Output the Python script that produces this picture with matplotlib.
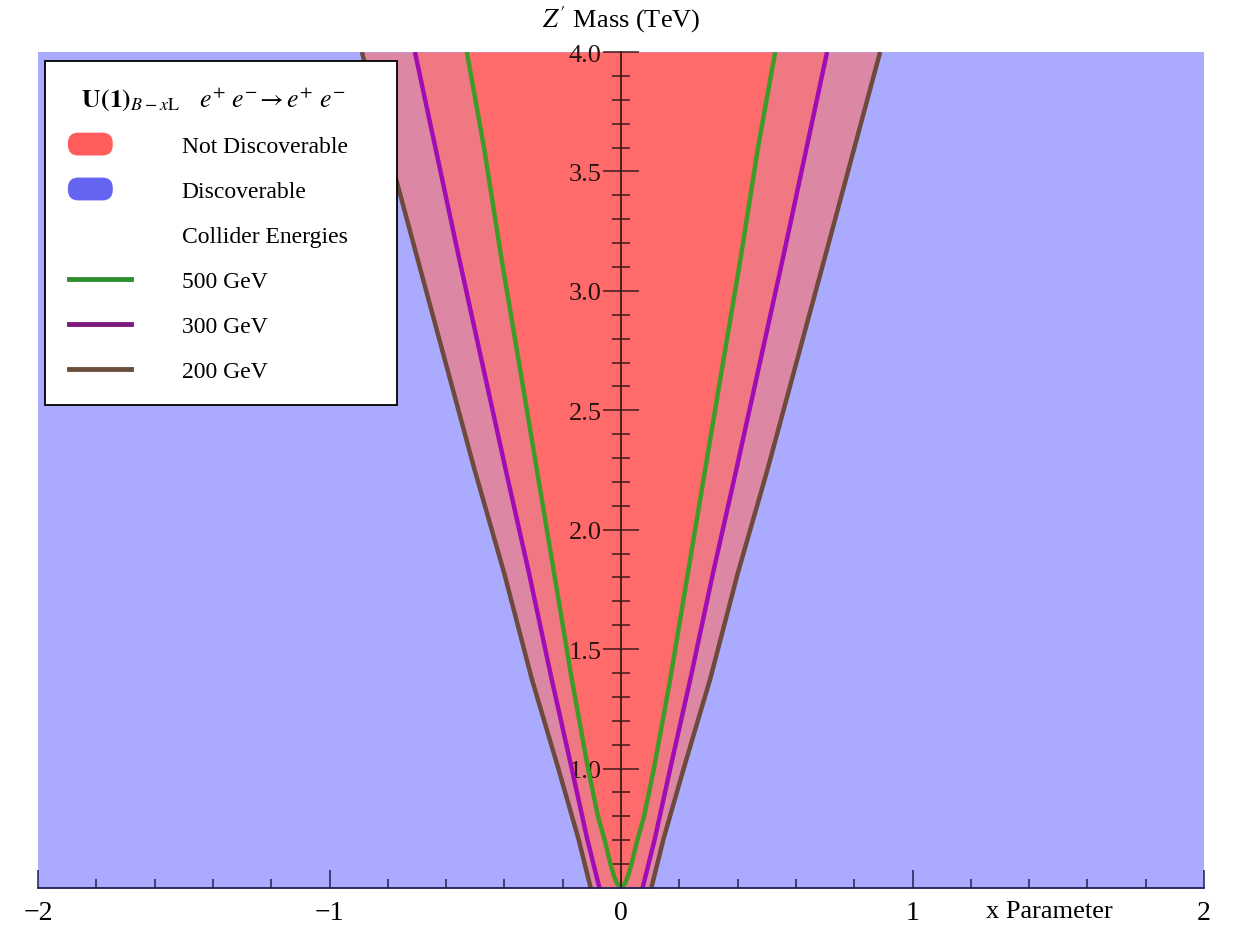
import matplotlib
matplotlib.use('Agg')
import matplotlib.pyplot as plt
import numpy as np
from matplotlib.lines import Line2D
from matplotlib.patches import Patch, FancyBboxPatch
from matplotlib.legend_handler import HandlerPatch
from matplotlib.ticker import FixedLocator, MultipleLocator

plt.rcParams['font.family'] = ['Liberation Serif', 'DejaVu Serif']
plt.rcParams['mathtext.fontset'] = 'stix'

# Z' mass (TeV) vs |x| at the edge of the reach
mass_500 = [0.5, 0.52, 0.55, 0.6, 0.65, 0.7, 0.8, 1.0, 1.375, 1.815, 2.254, 2.7, 3.134, 3.6, 4.0]
x_500 = [0.0, 0.014, 0.024, 0.036, 0.046, 0.056, 0.079, 0.113, 0.169, 0.229, 0.289, 0.35, 0.41, 0.47, 0.529]
mass_300 = [0.5, 0.706, 1.0, 1.375, 1.815, 2.254, 3.134, 4.0]
x_300 = [0.074, 0.116, 0.169, 0.238, 0.315, 0.396, 0.555, 0.707]
mass_200 = [0.5, 0.706, 1.0, 1.375, 1.815, 2.254, 3.134, 4.0]
x_200 = [0.104, 0.146, 0.215, 0.306, 0.400, 0.503, 0.698, 0.889]

energies = ['500 GeV', '300 GeV', '200 GeV']
line_cols = ['#3f9b27', '#a20cb4', '#6e4a3c']
legend_cols = ['#2f8f2f', '#7d1a80', '#6b4e3a']


def pill(legend, orig_handle, xdescent, ydescent, width, height, fontsize):
    w = 0.7 * width
    h = 1.3 * height
    return FancyBboxPatch((-xdescent, -ydescent + 0.5 * height - 0.5 * h), w, h,
                          boxstyle='round,pad=0,rounding_size=%f' % (0.45 * h))


fig = plt.figure(figsize=(12.33, 9.28), dpi=100)
ax = fig.add_axes([38 / 1233, 39 / 928, 1166 / 1233, 836 / 928])
ax.set_facecolor('#aaaaff')

m2, x2 = np.array(mass_200), np.array(x_200)
m3, x3 = np.array(mass_300), np.array(x_300)
m5, x5 = np.array(mass_500), np.array(x_500)
ax.fill_betweenx(m2, -x2, x2, color='#dc87a3', lw=0)
ax.fill_betweenx(m3, -x3, x3, color='#f07883', lw=0)
ax.fill_betweenx(m5, -x5, x5, color='#ff6b6b', lw=0)

for m, xv, c in [(m2, x2, line_cols[2]), (m3, x3, line_cols[1]), (m5, x5, line_cols[0])]:
    ax.plot(xv, m, color=c, lw=3.2, solid_capstyle='butt')
    ax.plot(-xv, m, color=c, lw=3.2, solid_capstyle='butt')

ax.set_xlim(-2, 2)
ax.set_ylim(0.5, 4.0)

for s in ['top', 'right']:
    ax.spines[s].set_visible(False)
ax.spines['left'].set_position(('data', 0))
ax.spines['left'].set_color('#3e1a1a')
ax.spines['left'].set_linewidth(1.3)
ax.spines['bottom'].set_color('#1f1f55')
ax.spines['bottom'].set_linewidth(1.3)

ax.xaxis.set_major_locator(FixedLocator([-2, -1, 0, 1, 2]))
ax.xaxis.set_minor_locator(MultipleLocator(0.2))
ax.set_xticklabels(['\u22122', '\u22121', '0', '1', '2'])
ax.tick_params(axis='x', which='major', direction='in', length=13, width=1.1,
               color='#1f1f55', labelsize=20, pad=9)
ax.tick_params(axis='x', which='minor', direction='in', length=6.5, width=1.1, color='#1f1f55')

ax.yaxis.set_major_locator(FixedLocator([1.0, 1.5, 2.0, 2.5, 3.0, 3.5, 4.0]))
ax.yaxis.set_minor_locator(FixedLocator(np.arange(0.6, 4.0, 0.1)))
ax.yaxis.set_major_formatter(plt.FormatStrFormatter('%.1f'))
ax.tick_params(axis='y', which='major', direction='inout', length=26, width=1.1,
               color='#3e1a1a', labelsize=19, pad=1, labelcolor='#2a1212')
ax.tick_params(axis='y', which='minor', direction='inout', length=13, width=1.1, color='#3e1a1a')

ax.text(0, 4.14, "$Z'$ Mass (TeV)", ha='center', va='center', fontsize=19, clip_on=False)
ax.text(1.47, -0.028, 'x Parameter', transform=ax.get_xaxis_transform(),
        ha='center', va='center', fontsize=19, clip_on=False)

handles = [Patch(color='#ff5c5c'), Patch(color='#6464f0'), Line2D([], [], lw=0)]
handles += [Line2D([], [], color=c, lw=3.5) for c in legend_cols]
labels = ['Not Discoverable', 'Discoverable', 'Collider Energies'] + energies
title = r"  $\mathbf{U(1)}_{B-x\mathrm{L}}$   $e^{+}\ e^{-}\!\rightarrow e^{+}\ e^{-}$" + "\u2003\u2002"
leg = ax.legend(handles, labels, title=title, loc='upper left',
                bbox_to_anchor=(0.006, 0.989), borderaxespad=0, fontsize=17,
                title_fontsize=18.5, handlelength=2.63, handletextpad=2.16,
                labelspacing=0.99, borderpad=1.0, fancybox=False, framealpha=1,
                edgecolor='black', alignment='left',
                handler_map={Patch: HandlerPatch(patch_func=pill)})
leg.get_frame().set_linewidth(1.3)

fig.savefig('out.png', dpi=100)
